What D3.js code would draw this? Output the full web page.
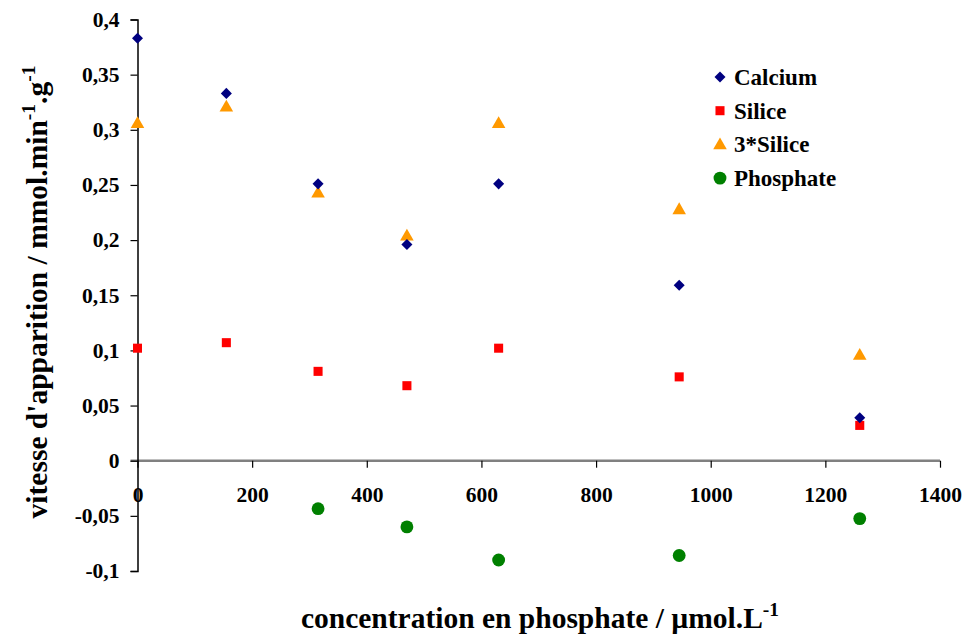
<!DOCTYPE html>
<html><head><meta charset="utf-8">
<script src="https://cdnjs.cloudflare.com/ajax/libs/d3/7.8.5/d3.min.js"></script>
<style>body{margin:0;background:#fff}svg{display:block}text{font-family:"Liberation Serif","Times New Roman",serif;font-weight:bold}</style>
</head><body><svg id="c" width="965" height="637"></svg>
<script>
const concentration = [0, 155, 315, 470, 630, 945, 1260];
const calcium = [0.383, 0.333, 0.251, 0.196, 0.251, 0.159, 0.039];
const silice = [0.102, 0.107, 0.081, 0.068, 0.102, 0.076, 0.032];
const silice3 = [0.306, 0.321, 0.243, 0.204, 0.306, 0.228, 0.096];
const phosphateX = [315, 470, 630, 945, 1260];
const phosphate = [-0.0435, -0.060, -0.090, -0.086, -0.0525];
const xTicks = [0, 200, 400, 600, 800, 1000, 1200, 1400];
const yTicks = [-0.1, -0.05, 0, 0.05, 0.1, 0.15, 0.2, 0.25, 0.3, 0.35, 0.4];
const seriesNames = ["Calcium", "Silice", "3*Silice", "Phosphate"];
const seriesColors = ["#000080", "#FF0000", "#FF9900", "#008000"];

const svg = d3.select("#c");
const x = d3.scaleLinear().domain([0, 1400]).range([137.5, 940]);
const y = d3.scaleLinear().domain([-0.1, 0.4]).range([571, 19.5]);
const fmt = v => (Math.abs(v) < 1e-9 ? "0" : String(+v.toFixed(2)).replace(".", ","));

// y axis
const ya = svg.append("g").attr("transform", `translate(${x(0)},0)`)
  .call(d3.axisLeft(y).tickValues(yTicks).tickSize(7).tickPadding(11).tickFormat(fmt));
ya.select(".domain").attr("stroke", "#000").attr("stroke-width", 1.5);
ya.selectAll(".tick line").attr("stroke", "#000").attr("stroke-width", 1.2);
ya.selectAll(".tick text").attr("font-size", 21.5).attr("fill", "#000")
  .style("font-family", '"Liberation Serif",serif').style("font-weight", "bold");

// x axis at y=0
const xa = svg.append("g").attr("transform", `translate(0,${y(0)})`)
  .call(d3.axisBottom(x).tickValues(xTicks).tickSize(7).tickPadding(19).tickSizeOuter(0).tickFormat(d => String(d)));
xa.select(".domain").attr("stroke", "#808080").attr("stroke-width", 2.5).attr("d", `M${x(0)-7},0H${x(1400)}`);
xa.selectAll(".tick line").attr("stroke", "#000").attr("stroke-width", 1.2);
xa.selectAll(".tick text").attr("font-size", 21.5).attr("fill", "#000")
  .style("font-family", '"Liberation Serif",serif').style("font-weight", "bold");
ya.raise();

const diamond = d3.symbol().type(d3.symbolDiamond2).size(78);
const square = d3.symbol().type(d3.symbolSquare).size(82);
const tri = d3.symbol().type(d3.symbolTriangle).size(80);
const circ = d3.symbol().type(d3.symbolCircle).size(130);
const shapes = [diamond, square, tri, circ];

function plot(xs, ys, sym, col, dy) {
  svg.append("g").selectAll("path").data(ys).join("path")
    .attr("d", sym())
    .attr("transform", (d, i) => `translate(${x(xs[i])},${y(d) + (dy||0)})`)
    .attr("fill", col);
}
plot(concentration, silice3, tri, seriesColors[2], 1);
plot(concentration, silice, square, seriesColors[1]);
plot(concentration, calcium, diamond, seriesColors[0]);
plot(phosphateX, phosphate, circ, seriesColors[3]);

// legend
const lg = svg.append("g");
seriesNames.forEach((n, i) => {
  const yy = 77 + i * 33.7;
  lg.append("path").attr("d", shapes[i]()).attr("transform", `translate(720,${yy + (i===2?1:0)})`).attr("fill", seriesColors[i]);
  lg.append("text").attr("x", 734).attr("y", yy + 8).attr("font-size", 23).text(n);
});

// axis titles
const xt = svg.append("text").attr("x", 540).attr("y", 628).attr("text-anchor", "middle").attr("font-size", 29.5);
xt.append("tspan").text("concentration en phosphate / µmol.L");
xt.append("tspan").attr("dy", -12).attr("font-size", 19.5).text("-1");

const yt = svg.append("text").attr("transform", "translate(47,292) rotate(-90)").attr("text-anchor", "middle").attr("font-size", 29.5);
yt.append("tspan").text("vitesse d'apparition / mmol.min");
yt.append("tspan").attr("dy", -12).attr("font-size", 19.5).text("-1");
yt.append("tspan").attr("dy", 12).text(".g");
yt.append("tspan").attr("dy", -12).attr("font-size", 19.5).text("-1");
</script></body></html>
